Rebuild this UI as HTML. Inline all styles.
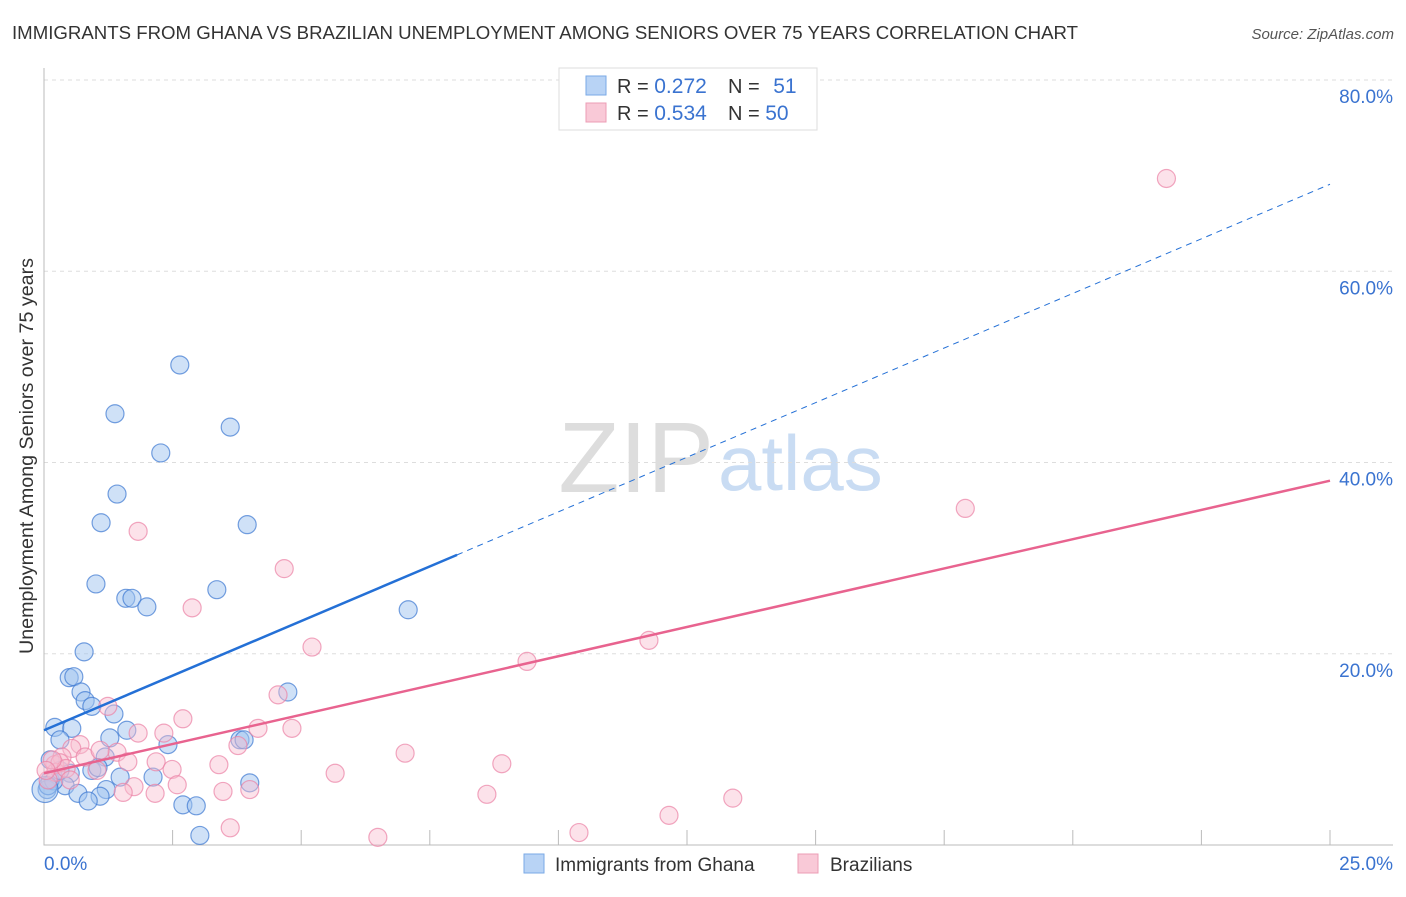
<!DOCTYPE html>
<html><head><meta charset="utf-8"><style>
body{margin:0;background:#fff;font-family:"Liberation Sans",sans-serif;}
svg text{font-family:"Liberation Sans",sans-serif;}
</style></head><body>
<svg id="chart" width="1406" height="892" viewBox="0 0 1406 892" xmlns="http://www.w3.org/2000/svg">
<text x="12" y="39" font-size="18" fill="#333" textLength="1066" lengthAdjust="spacingAndGlyphs">IMMIGRANTS FROM GHANA VS BRAZILIAN UNEMPLOYMENT AMONG SENIORS OVER 75 YEARS CORRELATION CHART</text>
<text x="1394" y="39" font-size="15" fill="#555" text-anchor="end" font-style="italic">Source: ZipAtlas.com</text>
<text x="714" y="492" font-size="100" text-anchor="end" fill="#ddd" font-family="Liberation Serif" >ZIP</text>
<text x="718" y="490" font-size="78" fill="#c9dcf3">atlas</text>
<g id="grid"></g>
<g id="marks"></g>
<text transform="translate(33,456) rotate(-90)" font-size="19" fill="#333" text-anchor="middle" textLength="396" lengthAdjust="spacingAndGlyphs">Unemployment Among Seniors over 75 years</text>
<g>
<rect x="559" y="68" width="258" height="62" fill="#fff" stroke="#ddd"/>
<rect x="586" y="76" width="20" height="19" fill="#b8d3f5" stroke="#7aaae6"/>
<rect x="586" y="103" width="20" height="19" fill="#f9c9d7" stroke="#ec9db5"/>
<text x="617" y="93" font-size="20" fill="#333">R = <tspan fill="#3a73d0" font-size="21">0.272</tspan></text>
<text x="728" y="93" font-size="20" fill="#333">N = <tspan fill="#3a73d0" dx="8" font-size="21">51</tspan></text>
<text x="617" y="120" font-size="20" fill="#333">R = <tspan fill="#3a73d0" font-size="21">0.534</tspan></text>
<text x="728" y="120" font-size="20" fill="#333">N = <tspan fill="#3a73d0" font-size="21">50</tspan></text>
</g>
<g>
<rect x="524" y="854" width="20" height="19" fill="#b8d3f5" stroke="#7aaae6"/>
<text x="555" y="871" font-size="19" fill="#333">Immigrants from Ghana</text>
<rect x="798" y="854" width="20" height="19" fill="#f9c9d7" stroke="#ec9db5"/>
<text x="830" y="871" font-size="19" fill="#333">Brazilians</text>
</g>
</svg>
<script>
const yTicks=[20,40,60,80];
const yTickLabels=["20.0%","40.0%","60.0%","80.0%"];
const xTicks=[0,2.5,5,7.5,10,12.5,15,17.5,20,22.5,25];
const ghanaX=[2.64,1.38,3.62,2.27,1.42,1.11,3.95,1.01,1.59,1.71,2.00,3.36,7.08,0.78,0.49,0.58,0.72,4.74,0.80,0.93,1.36,0.21,0.54,1.61,0.31,1.28,2.41,3.81,3.89,1.19,0.12,0.51,0.93,1.05,1.48,2.12,4.0,0.41,0.12,0.06,0.66,1.21,1.09,0.86,2.70,2.96,3.03,0.19,0.08,0.31,0.02];
const ghanaY=[50.2,45.1,43.7,41.0,36.7,33.7,33.5,27.3,25.8,25.8,24.9,26.7,24.6,20.2,17.5,17.6,16.0,16.0,15.1,14.5,13.7,12.3,12.2,12.0,11.0,11.2,10.5,11.0,11.0,9.2,8.9,7.5,7.8,8.1,7.1,7.1,6.5,6.2,6.8,5.8,5.4,5.8,5.1,4.6,4.2,4.1,1.0,6.7,6.2,7.8,5.8];
const brazX=[21.82,17.91,11.76,9.39,4.67,2.88,1.83,5.21,4.55,4.82,2.70,4.16,1.24,1.83,2.33,3.77,7.02,1.42,0.70,0.54,0.35,0.21,2.18,3.40,1.63,8.90,2.49,5.66,1.03,0.23,0.08,2.59,1.75,1.54,2.16,3.48,4.0,8.61,13.39,3.62,6.49,10.40,12.15,0.31,0.43,0.16,0.80,0.04,1.09,0.51];
const brazY=[69.7,35.2,21.4,19.2,28.9,24.8,32.8,20.7,15.7,12.2,13.2,12.2,14.5,11.7,11.7,10.4,9.6,9.7,10.5,10.1,9.2,8.4,8.7,8.4,8.7,8.5,7.9,7.5,7.8,7.6,6.8,6.3,6.1,5.5,5.4,5.6,5.8,5.3,4.9,1.8,0.8,1.3,3.1,8.6,8.0,8.9,9.2,7.8,9.9,6.8];
const ghanaTrend=[12.0,69.1]; const ghanaSolidEnd=8.03;
const brazTrend=[7.5,38.1];
const X=v=>44+v/25*1286, Y=v=>845-v/80*765;
const NS="http://www.w3.org/2000/svg";
function mk(p,t,a){const e=document.createElementNS(NS,t);for(const k in a)e.setAttribute(k,a[k]);p.appendChild(e);return e;}
const g=document.getElementById('grid'), m=document.getElementById('marks');
yTicks.forEach((t,i)=>{
 const l=mk(g,'line',{x1:44,x2:1393,y1:Y(t),y2:Y(t),stroke:'#ddd','stroke-dasharray':'4,4'});
 
 
 const tx=mk(g,'text',{x:1393,y:Y(t)+23,'font-size':19,fill:'#3a73d0','text-anchor':'end'});tx.textContent=yTickLabels[i];
 
 
});
const ax=mk(g,'path',{d:'M44,68V845H1393',stroke:'#bbb',fill:'none'});


xTicks.forEach(t=>{if(t===0)return;const l=mk(g,'line',{x1:X(t),x2:X(t),y1:830,y2:845,stroke:'#bbb'});
 
 });
let t0=mk(g,'text',{x:44,y:870,'font-size':19,fill:'#3a73d0'});t0.textContent='0.0%';


let t1=mk(g,'text',{x:1393,y:870,'font-size':19,fill:'#3a73d0','text-anchor':'end'});t1.textContent='25.0%';


ghanaX.forEach((x,i)=>{const c=mk(m,'circle',{cx:X(x),cy:Y(ghanaY[i]),r:i===ghanaX.length-1?13:9,fill:'rgba(160,196,240,0.5)',stroke:'rgba(60,120,210,0.7)','stroke-width':1.2});
 
 });
brazX.forEach((x,i)=>{const c=mk(m,'circle',{cx:X(x),cy:Y(brazY[i]),r:9,fill:'rgba(248,190,208,0.45)',stroke:'rgba(235,130,165,0.7)','stroke-width':1.2});
 
 });
const gy=x=>ghanaTrend[0]+(ghanaTrend[1]-ghanaTrend[0])*x/25;
let l1=mk(m,'line',{x1:X(0),y1:Y(gy(0)),x2:X(ghanaSolidEnd),y2:Y(gy(ghanaSolidEnd)),stroke:'#2470d6','stroke-width':2.5});


let l2=mk(m,'line',{x1:X(ghanaSolidEnd),y1:Y(gy(ghanaSolidEnd)),x2:X(25),y2:Y(gy(25)),stroke:'#2470d6','stroke-width':1,'stroke-dasharray':'6,5'});


let l3=mk(m,'line',{x1:X(0),y1:Y(brazTrend[0]),x2:X(25),y2:Y(brazTrend[1]),stroke:'#e8638f','stroke-width':2.5});


</script>
</body></html>
